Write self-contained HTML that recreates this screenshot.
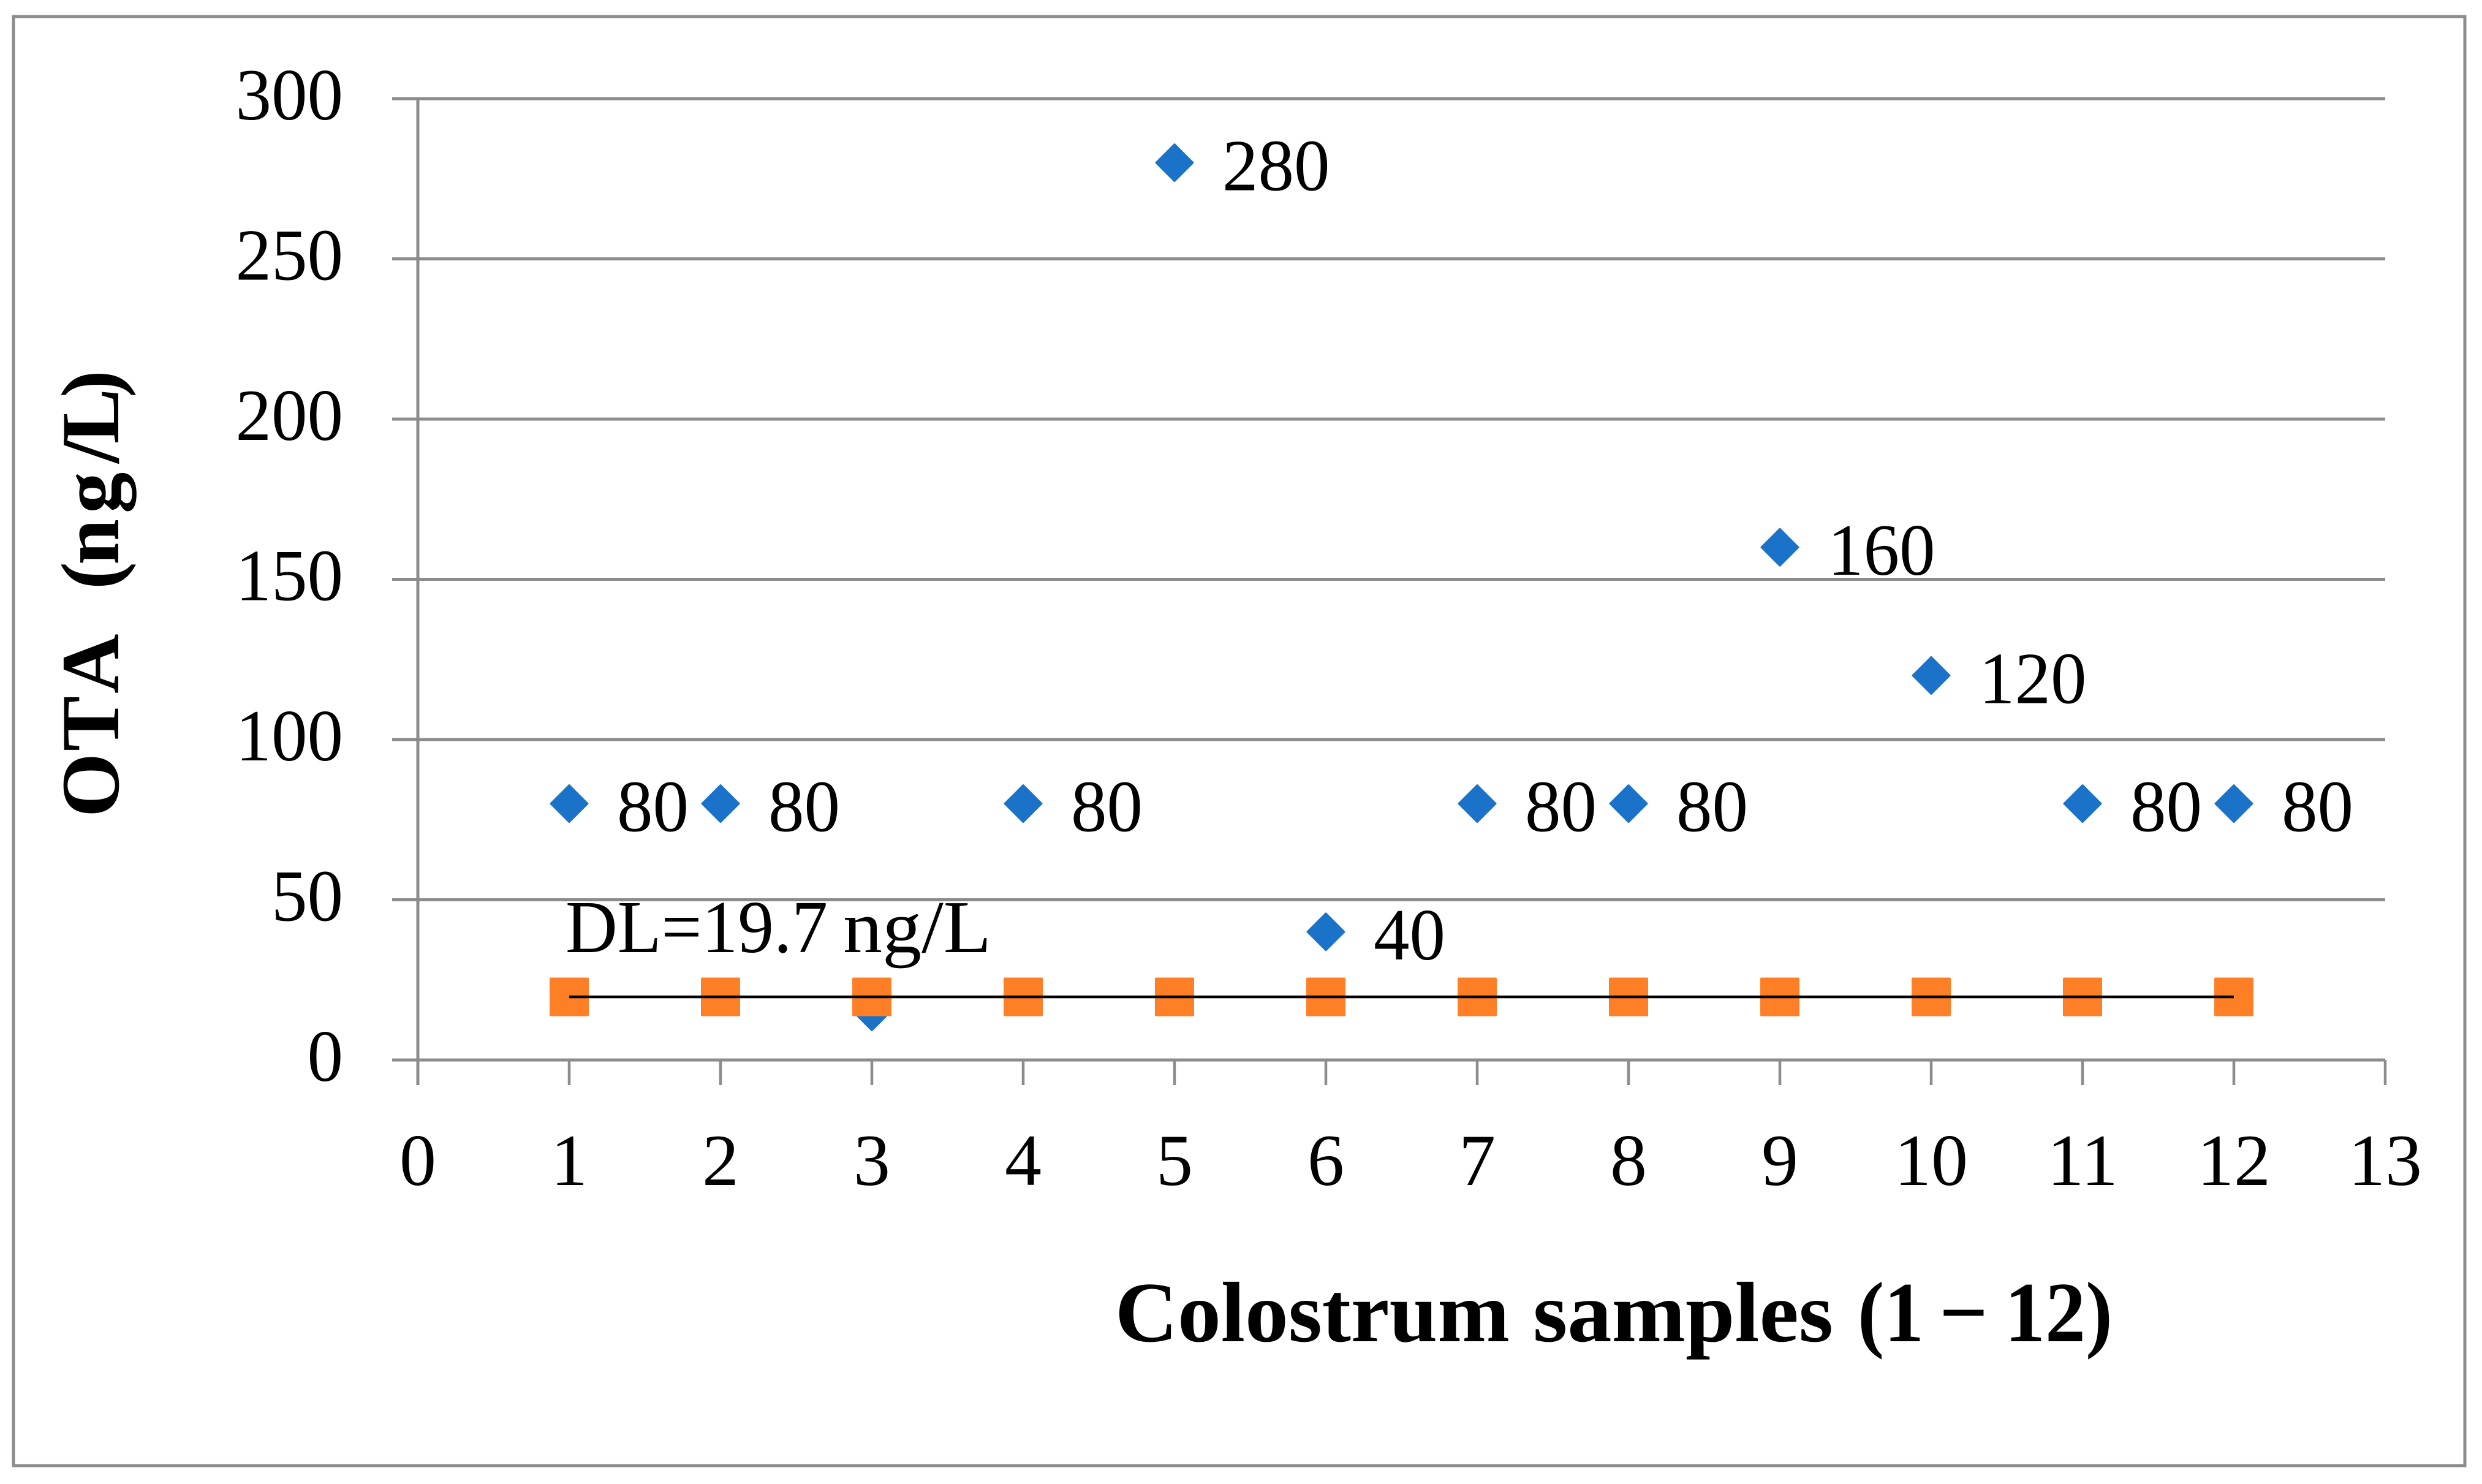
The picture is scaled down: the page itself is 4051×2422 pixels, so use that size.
<!DOCTYPE html>
<html lang="en">
<head>
<meta charset="utf-8">
<title>OTA in colostrum samples</title>
<style>
html,body{margin:0;padding:0;background:#fff;width:4051px;height:2422px;overflow:hidden}
svg{display:block}
text{font-family:"Liberation Serif","DejaVu Serif",serif;fill:#000}
</style>
</head>
<body>
<svg id="chart" xmlns="http://www.w3.org/2000/svg" width="4051" height="2422" viewBox="0 0 4051 2422">
<rect x="0" y="0" width="4051" height="2422" fill="#fff"/>
<rect x="22" y="27" width="4001" height="2365" fill="none" stroke="#8c8c8c" stroke-width="5"/>
<g id="grid"></g>
<g id="xticks"></g>
<g id="ylabels"></g>
<g id="xlabels"></g>
<g id="ota-series"></g>
<g id="dl-series"></g>
<g id="value-labels"></g>
<text y="1554" font-size="122"><tspan x="923" textLength="428" lengthAdjust="spacingAndGlyphs">DL=19.7</tspan> <tspan x="1376" textLength="242" lengthAdjust="spacingAndGlyphs">ng/L</tspan></text>
<text y="2189" font-size="140" font-weight="bold"><tspan x="1820" textLength="644" lengthAdjust="spacingAndGlyphs">Colostrum</tspan> <tspan x="2502" textLength="490" lengthAdjust="spacingAndGlyphs">samples</tspan> <tspan x="3032" textLength="108" lengthAdjust="spacingAndGlyphs">(1</tspan> <tspan x="3165">−</tspan> <tspan x="3272" textLength="176" lengthAdjust="spacingAndGlyphs">12)</tspan></text>
<text transform="translate(193,1330) rotate(-90)" x="-4 104 198 300 330 368 408 492 574 606 681" y="0" font-size="135" font-weight="bold" xml:space="preserve" style="white-space:pre">OTA  (ng/L)</text>
</svg>
<script>
const samples = [1, 2, 3, 4, 5, 6, 7, 8, 9, 10, 11, 12];
const otaValues = [80, 80, 15, 80, 280, 40, 80, 80, 160, 120, 80, 80];
const otaLabels = ["80", "80", "", "80", "280", "40", "80", "80", "160", "120", "80", "80"];
const detectionLimit = [19.7, 19.7, 19.7, 19.7, 19.7, 19.7, 19.7, 19.7, 19.7, 19.7, 19.7, 19.7];
const yTicks = [0, 50, 100, 150, 200, 250, 300];
const xTicks = [0, 1, 2, 3, 4, 5, 6, 7, 8, 9, 10, 11, 12, 13];

const NS = 'http://www.w3.org/2000/svg';
const plotLeft = 682, plotRight = 3893, plotTop = 161, plotBottom = 1730;
const GRID = '#8c8c8c';
const DIGIT_W = 58.5;
function xScale(v) { return plotLeft + (v - 0) / (13 - 0) * (plotRight - plotLeft); }
function yScale(v) { return plotBottom - (v - 0) / (300 - 0) * (plotBottom - plotTop); }
function make(tag, attrs, parent) {
  const el = document.createElementNS(NS, tag);
  for (const k in attrs) el.setAttribute(k, attrs[k]);
  parent.appendChild(el);
  return el;
}
const gridG = document.getElementById('grid');
const xTickG = document.getElementById('xticks');
const yLabelG = document.getElementById('ylabels');
const xLabelG = document.getElementById('xlabels');
const otaG = document.getElementById('ota-series');
const dlG = document.getElementById('dl-series');
const valG = document.getElementById('value-labels');

yTicks.forEach(function (t) {
  const line = make('line', { x1: 640, x2: plotRight, y1: yScale(t), y2: yScale(t), stroke: GRID, 'stroke-width': 5 }, gridG);
  
  
  const s = String(t);
  const label = make('text', { x: 560, y: yScale(t) + 34, 'font-size': 120, 'text-anchor': 'end', textLength: s.length * DIGIT_W, lengthAdjust: 'spacingAndGlyphs' }, yLabelG);
  label.textContent = s;
  
  
});

const yAxis = make('line', { x1: plotLeft, x2: plotLeft, y1: plotTop, y2: plotBottom + 41, stroke: GRID, 'stroke-width': 5 }, gridG);



xTicks.forEach(function (t) {
  const tick = make('line', { x1: xScale(t), x2: xScale(t), y1: plotBottom, y2: plotBottom + 41, stroke: GRID, 'stroke-width': 4.5 }, xTickG);
  
  
  const label = make('text', { x: xScale(t), y: 1934, 'font-size': 120, 'text-anchor': 'middle' }, xLabelG);
  label.textContent = String(t);
  
  
});

samples.forEach(function (s, i) {
  const cx = xScale(s), cy = yScale(otaValues[i]), h = 30;
  const d = make('polygon', {
    points: (cx) + ',' + (cy - h) + ' ' + (cx + h) + ',' + cy + ' ' + cx + ',' + (cy + h) + ' ' + (cx - h) + ',' + cy,
    fill: '#1a73c8', stroke: '#1a73c8', 'stroke-width': 3, 'stroke-linejoin': 'round'
  }, otaG);
  
  
  if (otaLabels[i]) {
    const t = make('text', { x: cx + 78, y: cy + 45, 'font-size': 120, textLength: otaLabels[i].length * DIGIT_W, lengthAdjust: 'spacingAndGlyphs' }, valG);
    t.textContent = otaLabels[i];
    
    
  }
});

samples.forEach(function (s, i) {
  const cx = xScale(s), cy = yScale(detectionLimit[i]);
  const sq = make('rect', { x: cx - 32, y: cy - 31.5, width: 64, height: 63, rx: 2, fill: '#ff7f27' }, dlG);
  
  
});

const dlPoints = samples.map(function (s, i) { return xScale(s) + ',' + yScale(detectionLimit[i]); }).join(' ');
const dlLine = make('polyline', { points: dlPoints, fill: 'none', stroke: '#000', 'stroke-width': 4.5 }, dlG);


</script>
</body>
</html>
